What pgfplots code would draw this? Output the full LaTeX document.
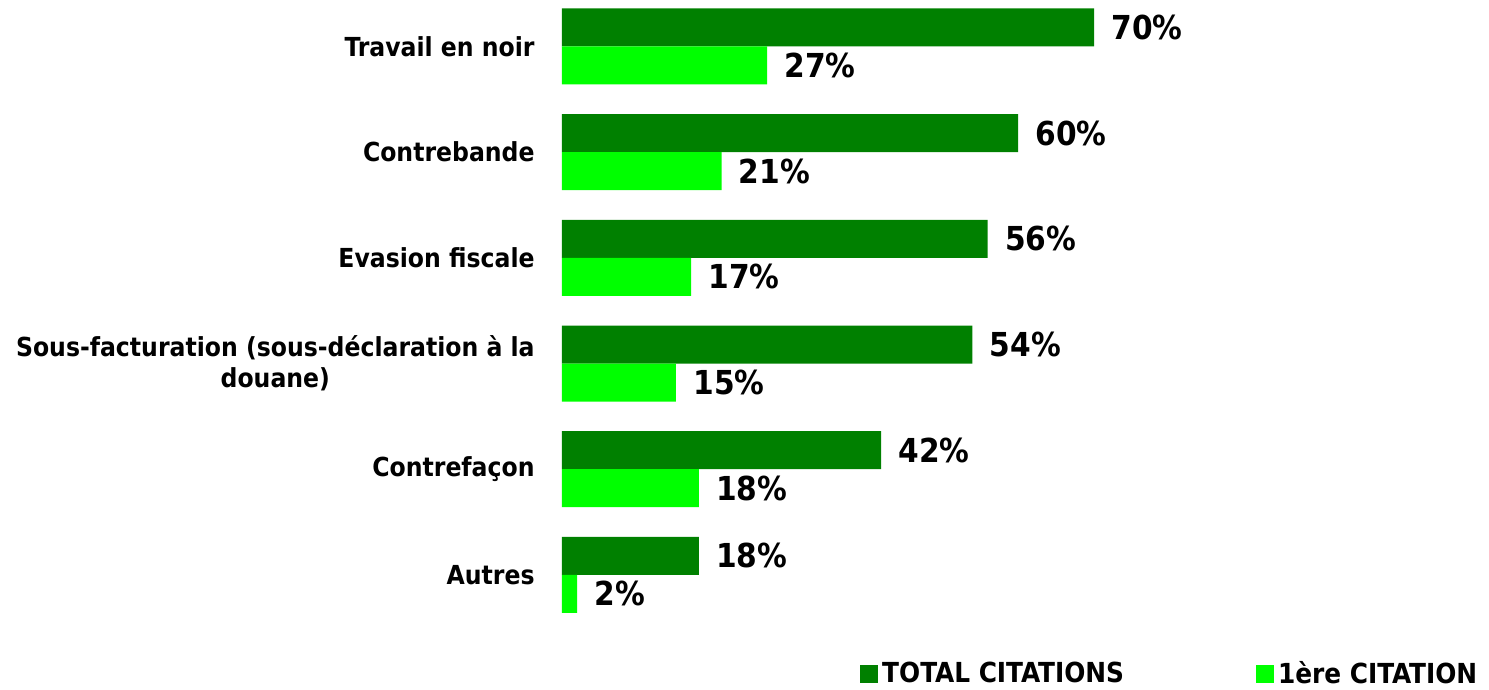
\documentclass[border=0pt]{standalone}
\usepackage{pgfplots}
\pgfplotsset{compat=1.18}
\usepackage{fontspec}
\setmainfont{DejaVu Sans Condensed}[BoldFont={DejaVu Sans Condensed Bold}]
\definecolor{dkg}{HTML}{008000}
\definecolor{ltg}{HTML}{00FF00}
\begin{document}
\begin{tikzpicture}[x=1pt,y=1pt]
\useasboundingbox (0,0) rectangle (744.5,345);
\begin{axis}[
  at={(281pt,345pt)}, anchor=north west,
  scale only axis, width=380pt, height=313.875pt,
  xbar, bar width=19pt,
  xmin=0, xmax=100,
  ymin=-0.44, ymax=5.5, y dir=reverse,
  ytick={0,...,5},
  yticklabels={Travail en noir,Contrebande,Evasion fiscale,{Sous-facturation (sous-déclaration à la\\douane)},Contrefaçon,Autres},
  yticklabel style={font=\fontsize{13.1}{15.5}\selectfont\bfseries, align=center, inner sep=0pt, xshift=-13.5pt},
  major tick length=0pt,
  hide x axis,
  axis y line*=left, y axis line style={draw=none},
  /pgf/number format/assume math mode=true,
  nodes near coords={\pgfmathprintnumber{\pgfplotspointmeta}\%},
  every node near coord/.append style={font=\fontsize{16.5}{19}\selectfont\bfseries, anchor=west, inner sep=0pt, xshift=8.5pt},
  legend style={at={(0.801,-0.0735)}, anchor=center, draw=none, inner sep=0pt, legend columns=2,
    font=\fontsize{13.8}{16}\selectfont\bfseries,
    /tikz/every even column/.append style={column sep=64pt}},
  legend image code/.code={\fill[#1] (0pt,-4.5pt) rectangle (9pt,4.5pt);},
  clip=false,
]
\addplot[fill=dkg, draw=none, bar shift=9.5pt] coordinates {(70,0) (60,1) (56,2) (54,3) (42,4) (18,5)};
\addplot[fill=ltg, draw=none, bar shift=-9.5pt] coordinates {(27,0) (21,1) (17,2) (15,3) (18,4) (2,5)};
\legend{TOTAL CITATIONS,1ère CITATION}
\end{axis}
\end{tikzpicture}
\end{document}
